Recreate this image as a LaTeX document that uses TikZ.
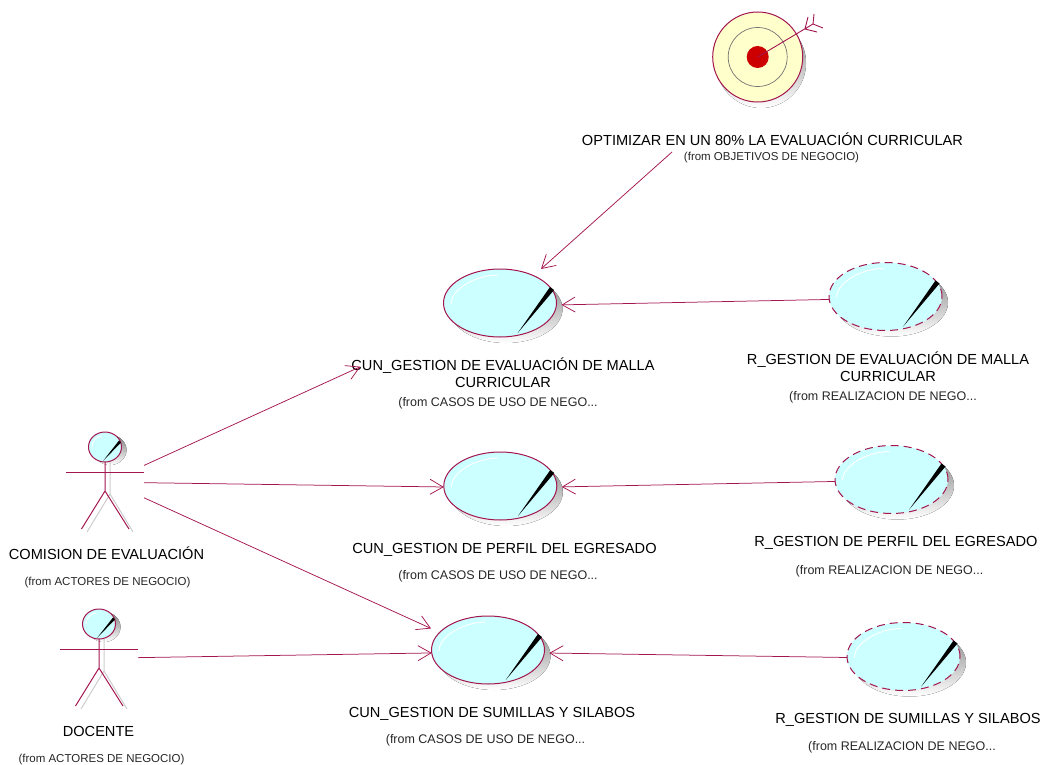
\documentclass[tikz,border=0pt]{standalone}
\usepackage{fontspec}
\setmainfont{Liberation Sans}
\usetikzlibrary{arrows.meta,shapes.geometric,calc}
\definecolor{rose}{HTML}{A3164F}
\definecolor{ucfill}{HTML}{CCFFFF}
\definecolor{shade}{HTML}{CCCCCC}
\definecolor{goalfill}{HTML}{FFFFCC}
\definecolor{goalred}{HTML}{CC0000}
\tikzset{
  x=1pt,y=-1pt,
  assoc/.style={draw=rose,line width=0.75pt,-{Straight Barb[length=13pt,width=15pt,line width=0.75pt]}},
  uc/.style={ellipse,draw=rose,fill=ucfill,line width=1pt,minimum width=113pt,minimum height=68pt,inner sep=0pt,outer sep=0pt},
  bigtxt/.style={font=\fontsize{14.6}{17}\selectfont,align=center,inner sep=0pt,text=black},
  smalltxt/.style={font=\fontsize{12.5}{14}\selectfont,align=center,inner sep=0pt,text=black!85},
  smalltxtb/.style={smalltxt,font=\fontsize{11.5}{14}\selectfont},
  actorbox/.style={rectangle,minimum width=78pt,minimum height=92pt,inner sep=0pt,outer sep=0pt},
  limb/.style={draw=rose,line width=1pt},
  limbshade/.style={draw=shade,line width=1pt},
  head/.style={ellipse,draw=rose,fill=ucfill,line width=1pt,minimum width=33pt,minimum height=30pt,inner sep=0pt,outer sep=0pt},
  pics/ucmark/.style={code={
    \draw[white,line width=0.9pt] (-49,1) .. controls (-49,-14) and (-24,-28) .. (-2,-28);
    \fill[black] (17.7,30) -- (50,-16) -- (54,-13) -- cycle;
  }},
  pics/headmark/.style={code={
    \draw[white,line width=0.8pt] (-13,0) .. controls (-13,-6) and (-8,-11) .. (-3,-11);
    \fill[black] (-2,14) -- (14,-6.5) -- (16,-4.5) -- cycle;
  }},
}
\begin{document}
\begin{tikzpicture}
\useasboundingbox (0,0) rectangle (1041,765);
% goal
\fill[shade] (761,63) circle[radius=45];
\node[circle,draw=rose,fill=goalfill,line width=1pt,minimum size=90pt,inner sep=0pt] (goal) at (757.7,57) {};
\draw[gray!90!black,line width=0.7pt] (757.7,57) circle[radius=29.5];
\fill[goalred] (757.7,57) circle[radius=11];
\draw[rose,line width=0.9pt] (goal.center) -- (813,24)
  (805,29) -- (808,17) (805,29) -- (817,32)
  (813,24) -- (814,14) (813,24) -- (823,28);
\node[bigtxt] (goaltxt) at (772.5,139) {OPTIMIZAR EN UN 80\% LA EVALUACIÓN CURRICULAR};
\node[smalltxtb] (goalfrom) at (771.5,158) {(from OBJETIVOS DE NEGOCIO)};
\coordinate (goalfoot) at (672,152);
% use cases
\foreach \cx/\cy in {500/303,500.3/486,488/650,885.5/296.5,891.5/479.5,903.5/656.5}{
  \fill[shade] (\cx+6,\cy+6) ellipse[x radius=56.5,y radius=34];
}
\node[uc] (uc1) at (500,303) {};
\node[uc] (uc2) at (500.3,486) {};
\node[uc] (uc3) at (488,650) {};
\node[uc,dash pattern=on 8pt off 5pt] (r1) at (885.5,296.5) {};
\node[uc,dash pattern=on 8pt off 5pt] (r2) at (891.5,479.5) {};
\node[uc,dash pattern=on 8pt off 5pt] (r3) at (903.5,656.5) {};
\foreach \cn in {uc1,uc2,uc3,r1,r2,r3}{ \pic at (\cn.center) {ucmark}; }
% labels
\node[bigtxt] (uc1txt) at (503,373) {CUN\_GESTION DE EVALUACIÓN DE MALLA\\CURRICULAR};
\node[smalltxt] (uc1from) at (498,403) {(from CASOS DE USO DE NEGO...};
\node[bigtxt] (r1txt) at (888,367) {R\_GESTION DE EVALUACIÓN DE MALLA\\CURRICULAR};
\node[smalltxt] (r1from) at (883,397) {(from REALIZACION DE NEGO...};
\node[bigtxt] (uc2txt) at (504.5,550) {CUN\_GESTION DE PERFIL DEL EGRESADO};
\node[smalltxt] (uc2from) at (498,576) {(from CASOS DE USO DE NEGO...};
\node[bigtxt] (r2txt) at (896,543) {R\_GESTION DE PERFIL DEL EGRESADO};
\node[smalltxt] (r2from) at (889.5,571) {(from REALIZACION DE NEGO...};
\node[bigtxt] (uc3txt) at (492,714) {CUN\_GESTION DE SUMILLAS Y SILABOS};
\node[smalltxt] (uc3from) at (485.5,740) {(from CASOS DE USO DE NEGO...};
\node[bigtxt] (r3txt) at (908,720) {R\_GESTION DE SUMILLAS Y SILABOS};
\node[smalltxt] (r3from) at (902,747) {(from REALIZACION DE NEGO...};
% actors
\node[actorbox] (act1) at (105,482) {};
\node[actorbox] (act2) at (99,659) {};
\foreach \hx/\hy/\ay in {105/447/472.3,99/624/649}{
  \fill[shade] (\hx+5,\hy+3) ellipse[x radius=16.5,y radius=15];
  \draw[limbshade] (\hx+5,\hy+15) -- (\hx+5,\hy+47) -- (\hx-18,\hy+85)
     (\hx+5,\hy+47) -- (\hx+28,\hy+85);
  \draw[limb] (\hx,\hy+15) -- (\hx,\hy+44) -- (\hx-23.5,\hy+82)
     (\hx,\hy+44) -- (\hx+24,\hy+82);
  \draw[limb] (\hx-39,\ay) -- (\hx+39,\ay);
}
\node[head] (h1) at (105,447) {};
\node[head] (h2) at (99,624) {};
\pic at (h1.center) {headmark};
\pic at (h2.center) {headmark};
\node[bigtxt] (a1txt) at (106.5,553) {COMISION DE EVALUACIÓN};
\node[smalltxtb] (a1from) at (107.5,582.5) {(from ACTORES DE NEGOCIO)};
\node[bigtxt] (a2txt) at (98.5,731) {DOCENTE};
\node[smalltxtb] (a2from) at (101.5,759.5) {(from ACTORES DE NEGOCIO)};
% connectors
\draw[assoc] (goalfoot) -- ($(uc1.center)+(41,-34)$);
\draw[assoc,shorten >=5pt] (r1.183) -- (uc1.-2);
\draw[assoc,shorten >=5pt] (r2.182) -- (uc2.-1);
\draw[assoc,shorten >=5pt] (r3.181) -- (uc3.-3);
\draw[assoc,shorten >=153.5pt] (act1.23) -- (uc1.center);
\draw[assoc] (act1.-1.5) -- (uc2.-179);
\draw[assoc,shorten >=9.5pt] (act1.-22) -- (uc3.160);
\draw[assoc] (act2.2) -- (uc3.-177);
\end{tikzpicture}
\end{document}
